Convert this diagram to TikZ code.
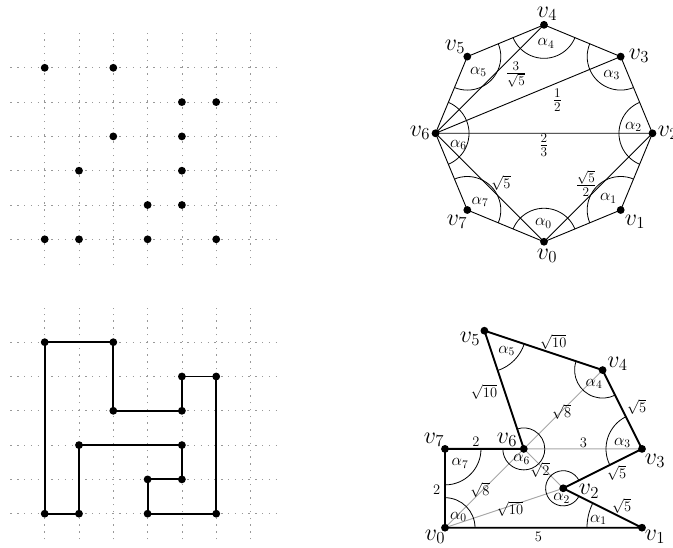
\RequirePackage{fix-cm}
\documentclass[tikz,border=0pt]{standalone}
\usetikzlibrary{calc}
\tikzset{
  dot/.style={circle,fill=black,inner sep=0pt,minimum size=7.8pt},
  gridline/.style={black!40,line width=0.8pt,dash pattern=on 1.4pt off 5.4pt},
  vlab/.style={font=\fontsize{24}{28}\selectfont,inner sep=0pt},
  alab/.style={font=\fontsize{16.5}{19}\selectfont,inner sep=0pt},
  elab/.style={font=\fontsize{14.5}{17}\selectfont,inner sep=0pt},
  flab/.style={font=\fontsize{19}{22}\selectfont,inner sep=0pt},
  thinedge/.style={line width=0.9pt},
  polyedge/.style={line width=1.9pt,line join=round},
  diagline/.style={black!35,line width=0.9pt},
  arcline/.style={line width=0.8pt},
}
\begin{document}
\begin{tikzpicture}[x=1pt,y=-1pt]
\useasboundingbox (0,0) rectangle (673,548);

% ---------- top-left: point set ----------
\begin{scope}[shift={(44.7pt,-239.3pt)},x=34.3pt,y=34.3pt]
  \foreach \r in {0,...,5} \draw[gridline] (-1,\r) -- (6.8,\r);
  \foreach \c in {0,...,6} \draw[gridline] (\c,-0.75) -- (\c,6);
  \foreach \n/\c/\r in {1/0/5,2/2/5,3/4/4,4/5/4,5/2/3,6/4/3,7/1/2,8/4/2,9/3/1,10/4/1,11/0/0,12/1/0,13/3/0,14/5/0}
    \node[dot] (tl\n) at (\c,\r) {};
\end{scope}

% ---------- bottom-left: polygon ----------
\begin{scope}[shift={(44.7pt,-513.7pt)},x=34.3pt,y=34.3pt]
  \foreach \r in {0,...,5} \draw[gridline] (-1,\r) -- (6.8,\r);
  \foreach \c in {0,...,6} \draw[gridline] (\c,-0.75) -- (\c,6);
  \foreach \n/\c/\r in {1/0/5,2/2/5,3/2/3,4/4/3,5/4/4,6/5/4,7/5/0,8/3/0,9/3/1,10/4/1,11/4/2,12/1/2,13/1/0,14/0/0}
    \coordinate (bl\n) at (\c,\r);
  \draw[polyedge] (bl1)--(bl2)--(bl3)--(bl4)--(bl5)--(bl6)--(bl7)--(bl8)--(bl9)--(bl10)--(bl11)--(bl12)--(bl13)--(bl14)--cycle;
  \foreach \n in {1,...,14} \node[dot] (bld\n) at (bl\n) {};
\end{scope}

% ---------- top-right: regular octagon ----------
\begin{scope}[shift={(544pt,-133.3pt)},x=34.3pt,y=34.3pt]
  \foreach \k in {0,...,7} \coordinate (o\k) at ({(\k-2)*45}:3.1623);
  \draw[thinedge] (o0)--(o1)--(o2)--(o3)--(o4)--(o5)--(o6)--(o7)--cycle;
  \draw[thinedge] (o6)--(o4) (o6)--(o3) (o6)--(o2) (o6)--(o0) (o0)--(o2);
  \foreach \k in {0,...,7} {
    \pgfmathsetmacro{\sa}{(\k-2)*45+180-67.5}
    \draw[arcline] ($(o\k)+(\sa:33.5pt)$) arc[start angle=\sa, delta angle=135, radius=33.5pt];
  }
  \foreach \k in {0,...,7} \node[dot] (od\k) at (o\k) {};
\end{scope}
\node[vlab] (tv0) at (547,256) {$v_0$};
\node[vlab] (tv1) at (635,222) {$v_1$};
\node[vlab] (tv2) at (668,133) {$v_2$};
\node[vlab] (tv3) at (639,56) {$v_3$};
\node[vlab] (tv4) at (547,14) {$v_4$};
\node[vlab] (tv5) at (455,47) {$v_5$};
\node[vlab] (tv6) at (420,133) {$v_6$};
\node[vlab] (tv7) at (457,222) {$v_7$};
\node[alab] (ta0) at (543.3,223.3) {$\alpha_0$};
\node[alab] (ta1) at (608.3,198.3) {$\alpha_1$};
\node[alab] (ta2) at (633.3,126.7) {$\alpha_2$};
\node[alab] (ta3) at (611.7,75) {$\alpha_3$};
\node[alab] (ta4) at (546,43.3) {$\alpha_4$};
\node[alab] (ta5) at (478.3,71.7) {$\alpha_5$};
\node[alab] (ta6) at (458.3,145) {$\alpha_6$};
\node[alab] (ta7) at (480,201.7) {$\alpha_7$};
\node[flab] (te1) at (516,74.5) {$\frac{3}{\sqrt5}$};
\node[flab] (te2) at (557.5,100.5) {$\frac{1}{2}$};
\node[flab] (te3) at (544,145) {$\frac{2}{3}$};
\node[elab] (te4) at (501,183.3) {$\sqrt5$};
\node[flab] (te5) at (586,183.3) {$\frac{\sqrt5}{2}$};

% ---------- bottom-right: lattice polygon ----------
\begin{scope}[shift={(445pt,-527.7pt)},x=39.4pt,y=39.4pt]
  \coordinate (b0) at (0,0);
  \coordinate (b1) at (5,0);
  \coordinate (b2) at (3,1);
  \coordinate (b3) at (5,2);
  \coordinate (b4) at (4,4);
  \coordinate (b5) at (1,5);
  \coordinate (b6) at (2,2);
  \coordinate (b7) at (0,2);
  \draw[diagline] (b0)--(b2) (b0)--(b6) (b6)--(b4) (b6)--(b2) (b6)--(b3);
  \draw[polyedge] (b0)--(b1)--(b2)--(b3)--(b4)--(b5)--(b6)--(b7)--cycle;
  \foreach \n/\s/\e/\r in {0/0/90/30, 1/153.43/180/55, 2/26.57/333.43/17.6, 3/116.57/206.57/36,
                           4/161.57/296.57/28, 5/-71.57/-18.43/42, 6/180/468.43/21, 7/270/360/36}
    \draw[arcline] ($(b\n)+(\s:\r pt)$) arc[start angle=\s, end angle=\e, radius=\r pt];
  \foreach \n in {0,...,7} \node[dot] (bd\n) at (b\n) {};
\end{scope}
\node[vlab] (bv0) at (435,537) {$v_0$};
\node[vlab] (bv1) at (655,537) {$v_1$};
\node[vlab] (bv2) at (589,491.5) {$v_2$};
\node[vlab] (bv3) at (655,461) {$v_3$};
\node[vlab] (bv4) at (617.5,364) {$v_4$};
\node[vlab] (bv5) at (470,339) {$v_5$};
\node[vlab] (bv6) at (507,440) {$v_6$};
\node[vlab] (bv7) at (434,440) {$v_7$};
\node[alab] (ba0) at (458.3,516.7) {$\alpha_0$};
\node[alab] (ba1) at (598.3,520) {$\alpha_1$};
\node[alab] (ba2) at (561.7,498.3) {$\alpha_2$};
\node[alab] (ba3) at (622.3,442.7) {$\alpha_3$};
\node[alab] (ba4) at (594,384) {$\alpha_4$};
\node[alab] (ba5) at (506.7,350.7) {$\alpha_5$};
\node[alab] (ba6) at (521.7,459.3) {$\alpha_6$};
\node[alab] (ba7) at (460,463.3) {$\alpha_7$};
\node[elab] (be1) at (553.3,342.3) {$\sqrt{10}$};
\node[elab] (be2) at (484,391.7) {$\sqrt{10}$};
\node[elab] (be3) at (561.7,411.7) {$\sqrt8$};
\node[elab] (be4) at (636.7,406.7) {$\sqrt5$};
\node[elab] (be5) at (476,441.7) {$2$};
\node[elab] (be6) at (583.3,442.7) {$3$};
\node[elab] (be7) at (436.7,490) {$2$};
\node[elab] (be8) at (480,490) {$\sqrt8$};
\node[elab] (be9) at (540,470) {$\sqrt2$};
\node[elab] (be10) at (616.7,472.7) {$\sqrt5$};
\node[elab] (be11) at (510,509.3) {$\sqrt{10}$};
\node[elab] (be12) at (621.7,506) {$\sqrt5$};
\node[elab] (be13) at (538.3,537.3) {$5$};
\end{tikzpicture}
\end{document}
